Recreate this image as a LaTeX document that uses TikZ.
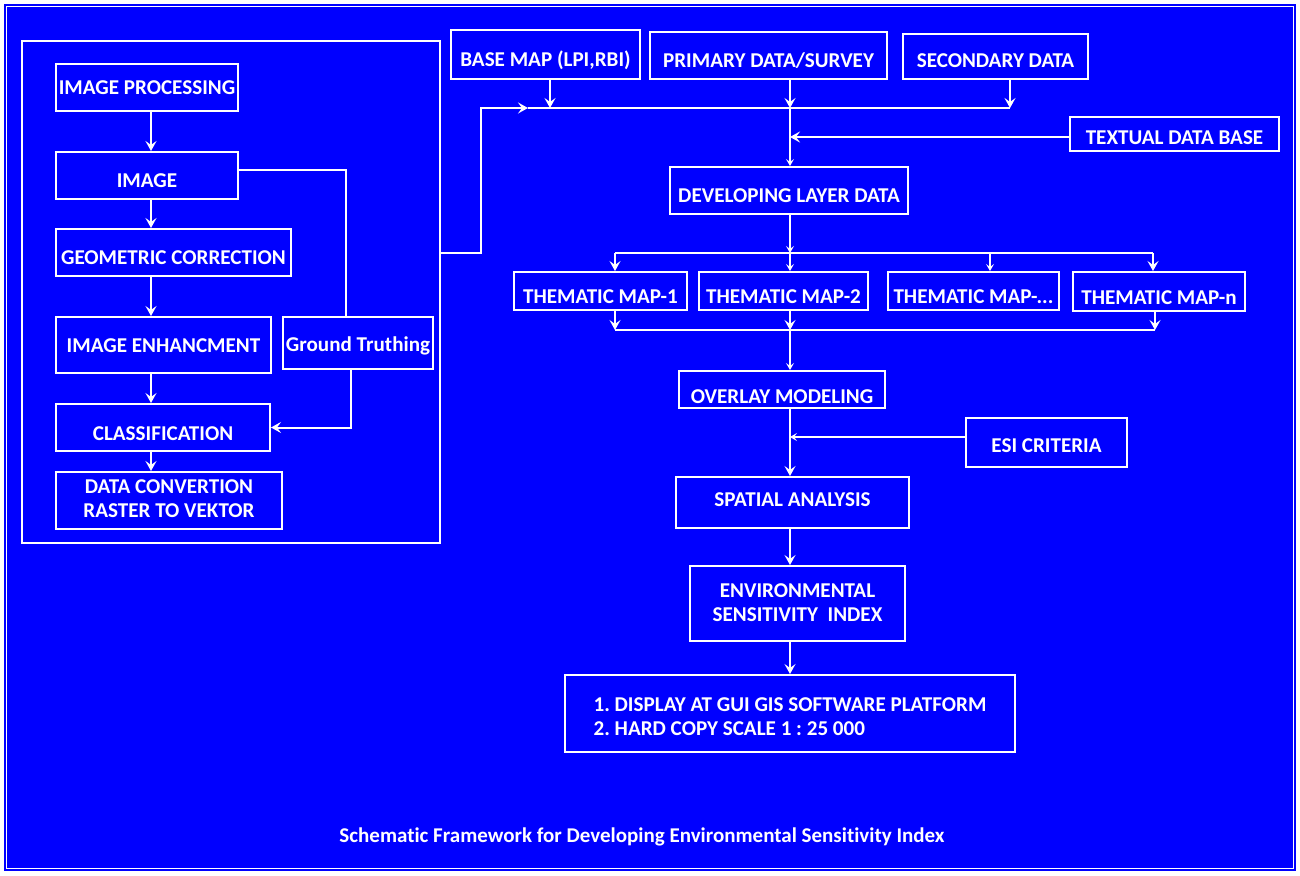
\documentclass[tikz,border=0pt]{standalone}
\usepackage{fontspec}
\setmainfont{Carlito}[Ligatures={NoCommon}]
\usetikzlibrary{arrows.meta}
\definecolor{bg}{RGB}{0,0,255}
\newcommand\mybox[7][0]{\node[box,minimum width={(#5-#3)*1pt},minimum height={(#6-#4)*1pt}] (#2) at ({(#3+#5)/2},{(#4+#6)/2}) {\raisebox{-#1pt}[\height][\depth]{#7}};}
\frenchspacing
\begin{document}
\begin{tikzpicture}[x=1pt,y=-1pt,
  box/.style={draw=white,line width=2pt,inner sep=0pt,text=white,align=center,
    font=\fontsize{21.1}{24.5}\selectfont\bfseries},
  conn/.style={draw=white,line width=2pt},
  arr/.style={conn,-{Stealth[length=10pt,width=11pt,inset=4pt]}},
  sarr/.style={conn,-{Stealth[length=7pt,width=8pt,inset=3pt]}},
  captext/.style={text=white,font=\fontsize{21}{24}\selectfont\bfseries}]
\useasboundingbox (0,0) rectangle (1300,875);
\fill[white] (0,0) rectangle (1300,875);
\fill[bg] (4,4) rectangle (1296,871);
\draw[white,line width=1.5pt] (6.5,6.5) rectangle (1293.5,868.5);

% left panel
\mybox{lb}{22}{41}{440}{543}{}
\mybox{ip}{56}{64}{238}{111}{IMAGE PROCESSING}
\mybox[5]{img}{56}{152}{238}{199}{IMAGE}
\mybox[5]{gc}{56}{229}{291}{276}{GEOMETRIC CORRECTION}
\mybox[1]{ie}{56}{317}{271}{373}{IMAGE ENHANCMENT}
\mybox[3]{gt}{283}{317}{433}{369}{Ground Truthing}
\mybox[6]{cls}{56}{404}{270}{451}{CLASSIFICATION}
\mybox{dc}{56}{472}{282}{529}{\begin{tabular}{@{}c@{}}DATA CONVERTION\\RASTER TO VEKTOR\end{tabular}}

% right part
\mybox[6]{bm}{451}{30}{640}{79}{BASE MAP (LPI,RBI)}
\mybox[5]{pd}{650}{32}{887}{79}{PRIMARY DATA/SURVEY}
\mybox[4]{sd}{903}{34}{1088}{79}{SECONDARY DATA}
\mybox[4]{tdb}{1070}{117}{1279}{151}{TEXTUAL DATA BASE}
\mybox[5]{dld}{670}{167}{908}{214}{DEVELOPING LAYER DATA}
\mybox[6]{tm1}{514}{272}{687}{310}{THEMATIC MAP-1}
\mybox[6]{tm2}{699}{272}{868}{310}{THEMATIC MAP-2}
\mybox[6]{tm3}{888}{272}{1059}{310}{THEMATIC MAP-...}
\mybox[6]{tmn}{1073}{272}{1245}{311}{THEMATIC MAP-n}
\mybox[7]{ov}{679}{371}{885}{408}{OVERLAY MODELING}
\mybox[3]{esi}{966}{418}{1127}{467}{ESI CRITERIA}
\mybox[-3]{sa}{676}{477}{909}{528}{SPATIAL ANALYSIS}
\mybox[1]{eix}{690}{566}{905}{641}{\begin{tabular}{@{}c@{}}ENVIRONMENTAL\\SENSITIVITY~~INDEX\end{tabular}}
\mybox[5]{fin}{565}{675}{1015}{752}{\begin{tabular}{@{}l@{}}1. DISPLAY AT GUI GIS SOFTWARE PLATFORM\\2. HARD COPY SCALE 1 : 25 000\end{tabular}}

\node[captext] (caption) at (642,837) {Schematic Framework for Developing Environmental Sensitivity Index};

% coordinates
\coordinate (cL) at (151,0);
\coordinate (cM) at (790,0);
\coordinate (busA) at (528,108);
\coordinate (busB) at (1010,108);
\coordinate (jTdb) at (790,137);
\coordinate (jA) at (790,108);
\coordinate (b1L) at (615,253);
\coordinate (b1R) at (1153,253);
\coordinate (b1M) at (790,253);
\coordinate (b2L) at (615,330);
\coordinate (b2R) at (1155,330);
\coordinate (b2M) at (790,330);
\coordinate (jEsi) at (790,437);

% left chain
\draw[arr] (ip.south -| cL) -- (img.north -| cL);
\draw[arr] (img.south -| cL) -- (gc.north -| cL);
\draw[arr] (gc.south -| cL) -- (ie.north -| cL);
\draw[arr] (ie.south -| cL) -- (cls.north -| cL);
\draw[arr] (cls.south -| cL) -- (dc.north -| cL);
\draw[conn] (img.east |- 0,170) -- (346,170) -- (gt.north -| 346,0);
\draw[arr] (gt.south -| 351,0) |- (cls.east);
\draw[arr] (lb.east |- 0,253) -- (481,253) -- (481,108) -- (busA);

% top bus
\draw[conn] (busA) -- (busB);
\draw[arr] (bm.south -| 550,0) -- (busA -| 550,0);
\draw[arr] (pd.south -| cM) -- (jA);
\draw[arr] (sd.south -| busB) -- (busB);
\draw[arr] (tdb.west |- jTdb) -- (jTdb);
\draw[sarr] (jA) -- (dld.north -| cM);

% thematic maps
\draw[sarr] (dld.south -| cM) -- (b1M);
\draw[conn] (b1L) -- (b1R);
\draw[arr] (b1L) -- (tm1.north -| b1L);
\draw[sarr] (b1M) -- (tm2.north -| cM);
\draw[sarr] (990,253) -- (tm3.north -| 990,0);
\draw[arr] (b1R) -- (tmn.north -| b1R);
\draw[arr] (tm1.south -| b2L) -- (b2L);
\draw[arr] (tm2.south -| cM) -- (b2M);
\draw[arr] (tmn.south -| b2R) -- (b2R);
\draw[conn] (b2L) -- (b2R);
\draw[sarr] (b2M) -- (ov.north -| cM);

% lower chain
\draw[arr] (ov.south -| cM) -- (sa.north -| cM);
\draw[sarr] (esi.west |- jEsi) -- (jEsi);
\draw[arr] (sa.south -| cM) -- (eix.north -| cM);
\draw[arr] (eix.south -| cM) -- (fin.north -| cM);
\end{tikzpicture}
\end{document}
